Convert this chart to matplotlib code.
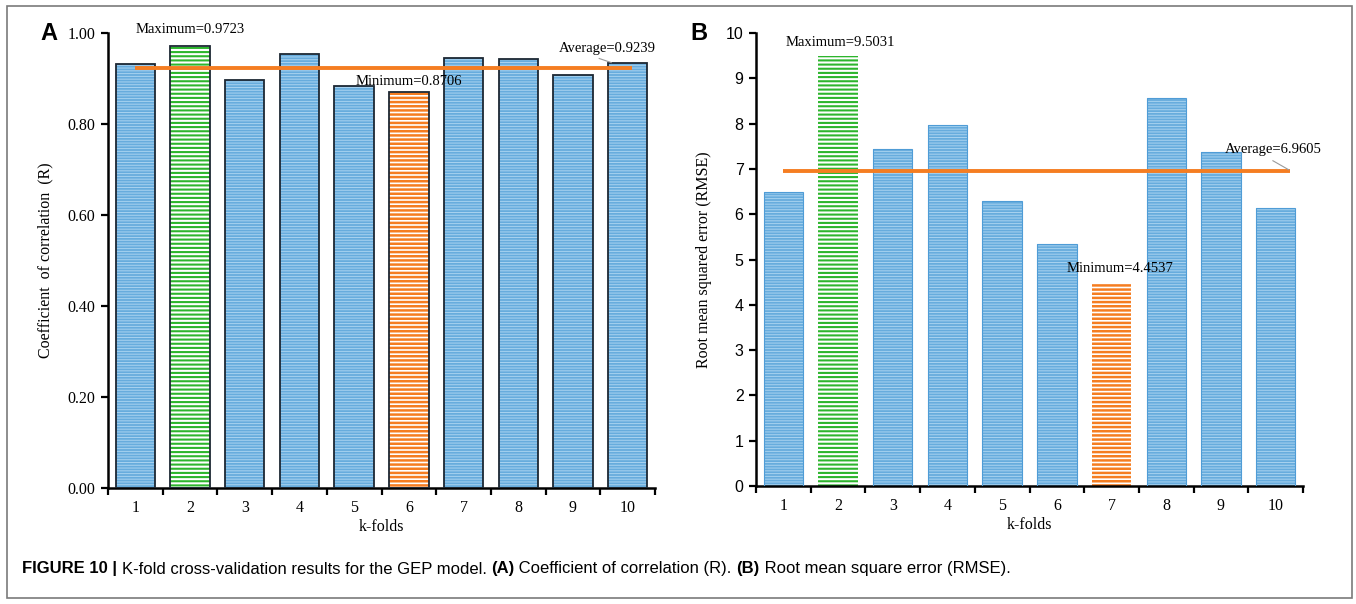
import matplotlib
matplotlib.use("Agg")
import matplotlib.pyplot as plt
import numpy as np
from matplotlib.patches import Rectangle

# ---------------- data ----------------
folds = list(range(1, 11))
fold_labels = [str(k) for k in folds]
r_values = [0.932, 0.9723, 0.897, 0.954, 0.884, 0.8706, 0.945, 0.943, 0.908, 0.934]
r_average = 0.9239
rmse_values = [6.48, 9.5031, 7.45, 7.98, 6.29, 5.35, 4.4537, 8.57, 7.38, 6.13]
rmse_average = 6.9605
r_ticks = [0.0, 0.2, 0.4, 0.6, 0.8, 1.0]
rmse_ticks = list(range(0, 11))

BLUE = '#67acdd'
BLUE_H = '#a9d3f0'
BLUE_EDGE = '#4f9cd6'
GREEN = '#2db52d'
ORANGE = '#f57d21'
EDGE = '#1c2733'

fig = plt.figure(figsize=(13.56, 6.04), dpi=100)

# outer frame
fig.patches.append(Rectangle((7/1356, 1-598/604), (1352-7)/1356, (598-6)/604,
                             transform=fig.transFigure, fill=False,
                             edgecolor='#7a7a7a', lw=1.2))

SERIF = 'Liberation Serif'
SANS = 'Liberation Sans'


def hatched_bar(ax, x, v, face, hcol, hatch, hlw):
    with plt.rc_context({'hatch.linewidth': hlw}):
        bars = ax.bar(x, v, width=0.72, color=face, edgecolor=hcol, hatch=hatch,
                      linewidth=0, zorder=2)
    for b in bars:
        if hasattr(b, 'set_hatch_linewidth'):
            try:
                b.set_hatch_linewidth(hlw)
            except Exception:
                pass
    return bars


def draw_panel(ax, values, avg, ticks, tick_fmt, ylim, edge_black, ytick_family,
               maxi, mini, avg_end):
    x = np.array(folds)
    for i, v in enumerate(values):
        if i == maxi:
            hatched_bar(ax, x[i], v, 'white', GREEN, '----', 1.5)
            ec = EDGE if edge_black else 'none'
        elif i == mini:
            hatched_bar(ax, x[i], v, 'white', ORANGE, '----', 1.8)
            ec = EDGE if edge_black else 'none'
        else:
            hatched_bar(ax, x[i], v, BLUE, BLUE_H, '------', 0.7)
            ec = EDGE if edge_black else BLUE_EDGE
        ax.bar(x[i], v, width=0.72, facecolor='none',
               edgecolor=ec, linewidth=1.3 if edge_black else 0.8, zorder=3)
    ax.plot([1, avg_end], [avg, avg], color=ORANGE, lw=2.8, zorder=4,
            solid_capstyle='butt')
    ax.set_xlim(0.5, 10.5)
    ax.set_ylim(*ylim)
    ax.set_yticks(ticks)
    ax.set_yticklabels([tick_fmt(t) for t in ticks], family=ytick_family, fontsize=11.5)
    ax.set_xticks(np.arange(0.5, 11.0, 1.0))
    ax.set_xticklabels([])
    ax.set_xticks(x, minor=True)
    ax.set_xticklabels(fold_labels, minor=True, family=SERIF, fontsize=11.5)
    ax.tick_params(axis='x', which='minor', length=0, pad=9)
    ax.tick_params(axis='x', which='major', length=5, width=1.6, direction='out')
    ax.tick_params(axis='y', length=5, width=1.6, direction='out', pad=4)
    for s in ['top', 'right']:
        ax.spines[s].set_visible(False)
    for s in ['left', 'bottom']:
        ax.spines[s].set_linewidth(1.8)
        ax.spines[s].set_color('black')
    ax.set_xlabel('k-folds', family=SERIF, fontsize=11.5, labelpad=2)


# Panel A
axA = fig.add_axes([108/1356, 1-488/604, (655-108)/1356, (488-33)/604])
draw_panel(axA, r_values, r_average, r_ticks, lambda t: f'{t:.2f}', (0, 1.0), True,
           SERIF, 1, 5, 10.08)
axA.set_ylabel('Coefficient  of correlation  (R)', family=SERIF, fontsize=11.5, labelpad=10)
axA.text(2.0, 1.007, f'Maximum={r_values[1]:.4f}', family=SERIF, fontsize=10.5,
         ha='center', va='center', zorder=5)
axA.text(6.0, 0.893, f'Minimum={r_values[5]:.4f}', family=SERIF, fontsize=10.5,
         ha='center', va='center', zorder=5)
axA.text(9.62, 0.967, f'Average={r_average:.4f}', family=SERIF, fontsize=10.5,
         ha='center', va='center', zorder=5)
axA.plot([9.48, 9.7], [0.944, 0.935], color='#9a9a9a', lw=0.8, zorder=5)

# Panel B
axB = fig.add_axes([756/1356, 1-486/604, (1303-756)/1356, (486-33)/604])
draw_panel(axB, rmse_values, rmse_average, rmse_ticks, lambda t: f'{t:d}', (0, 10), False,
           SANS, 1, 6, 10.26)
axB.set_ylabel('Root mean squared error (RMSE)', family=SERIF, fontsize=11.5, labelpad=10)
axB.text(2.04, 9.80, f'Maximum={rmse_values[1]:.4f}', family=SERIF, fontsize=10.5,
         ha='center', va='center', zorder=5)
axB.text(7.15, 4.81, f'Minimum={rmse_values[6]:.4f}', family=SERIF, fontsize=10.5,
         ha='center', va='center', zorder=5)
axB.text(9.95, 7.42, f'Average={rmse_average:.4f}', family=SERIF, fontsize=10.5,
         ha='center', va='center', zorder=5)
axB.plot([9.95, 10.24], [7.18, 6.98], color='#9a9a9a', lw=0.8, zorder=5)

# panel letters
fig.text(40/1356, 1-33/604, 'A', family=SANS, weight='bold', fontsize=17, va='center')
fig.text(690/1356, 1-33/604, 'B', family=SANS, weight='bold', fontsize=17, va='center')

# caption with mixed weights
pieces = [('FIGURE 10 | ', 'bold'),
          ('K-fold cross-validation results for the GEP model. ', 'normal'),
          ('(A)', 'bold'), (' Coefficient of correlation (R). ', 'normal'),
          ('(B)', 'bold'), (' Root mean square error (RMSE).', 'normal')]
fig.canvas.draw()
renderer = fig.canvas.get_renderer()
xpos = 22
for txt, w in pieces:
    t = fig.text(xpos/1356, 1-569/604, txt, family=SANS, weight=w, fontsize=12,
                 va='center', ha='left')
    bb = t.get_window_extent(renderer=renderer)
    xpos += bb.width

fig.savefig('out.png', dpi=100)
